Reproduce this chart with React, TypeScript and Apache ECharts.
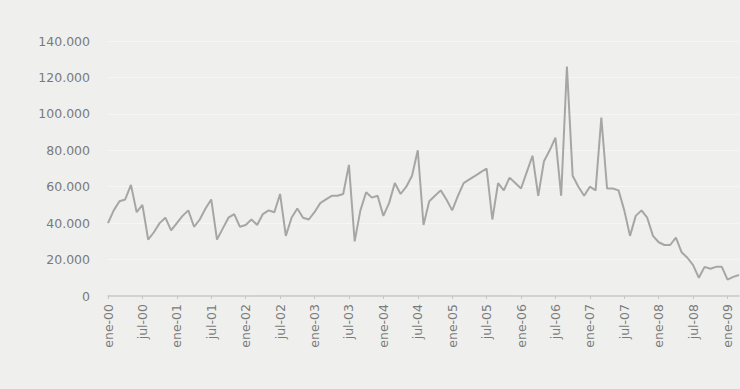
import React, { useEffect, useRef } from "react";
import * as echarts from "echarts";

const monthNames = ["ene", "feb", "mar", "abr", "may", "jun", "jul", "ago", "sep", "oct", "nov", "dic"];
const startYear = 2000;

const values = [
  40000, 47000, 52000, 53000, 61000, 46000, 50000, 31000, 35000, 40000, 43000, 36000,
  40000, 44000, 47000, 38000, 42000, 48000, 53000, 31000, 37000, 43000, 45000, 38000,
  39000, 42000, 39000, 45000, 47000, 46000, 56000, 33000, 43000, 48000, 43000, 42000,
  46000, 51000, 53000, 55000, 55000, 56000, 72000, 30000, 47000, 57000, 54000, 55000,
  44000, 51000, 62000, 56000, 60000, 66000, 80000, 39000, 52000, 55000, 58000, 53000,
  47000, 55000, 62000, 64000, 66000, 68000, 70000, 42000, 62000, 58000, 65000, 62000,
  59000, 68000, 77000, 55000, 74000, 80000, 87000, 55000, 126000, 66000, 60000, 55000,
  60000, 58000, 98000, 59000, 59000, 58000, 47000, 33000, 44000, 47000, 43000, 33000,
  29500, 28000, 28000, 32000, 24000, 21000, 17000, 10000, 16000, 15000, 16000, 16000,
  9000, 10500, 11500,
];

const categories = values.map((_, i) => {
  const m = i % 12;
  const y = (startYear + Math.floor(i / 12)) % 100;
  return `${monthNames[m]}-${String(y).padStart(2, "0")}`;
});

const yMax = 140000;
const yStep = 20000;

const fmt = (v: number) => String(v).replace(/\B(?=(\d{3})+(?!\d))/g, ".");

export default function App() {
  const ref = useRef<HTMLDivElement>(null);
  useEffect(() => {
    document.body.style.margin = "0";
    if (!ref.current) return;
    const chart = echarts.init(ref.current, undefined, { renderer: "svg" });
    chart.setOption({
      animation: false,
      backgroundColor: "#eff0ee",
      grid: { left: 108, right: 1, top: 41, bottom: 93, containLabel: false },
      xAxis: {
        type: "category",
        data: categories,
        boundaryGap: false,
        axisLine: { show: true, lineStyle: { color: "#c6c6c6", width: 1.5 } },
        axisTick: { show: true, interval: 5, length: 3, lineStyle: { color: "#c6c6c6" } },
        axisLabel: {
          interval: 5,
          rotate: 90,
          margin: 8,
          color: "#7a7a7a",
          fontSize: 12.5,
          fontFamily: "DejaVu Sans",
        },
        splitLine: { show: false },
      },
      yAxis: {
        type: "value",
        min: 0,
        max: yMax,
        interval: yStep,
        axisLine: { show: false },
        axisTick: { show: false },
        axisLabel: {
          margin: 18,
          color: "#7a7a7a",
          fontSize: 12.5,
          fontFamily: "DejaVu Sans",
          formatter: (v: number) => fmt(v),
        },
        splitLine: { show: true, lineStyle: { color: "#f6f6f4", width: 1 } },
      },
      series: [
        {
          type: "line",
          data: values,
          symbol: "none",
          lineStyle: { color: "#a6a6a6", width: 2 },
        },
      ],
    });
    return () => chart.dispose();
  }, []);
  return <div ref={ref} style={{ position: "absolute", left: 0, top: 0, width: 740, height: 389 }} />;
}
